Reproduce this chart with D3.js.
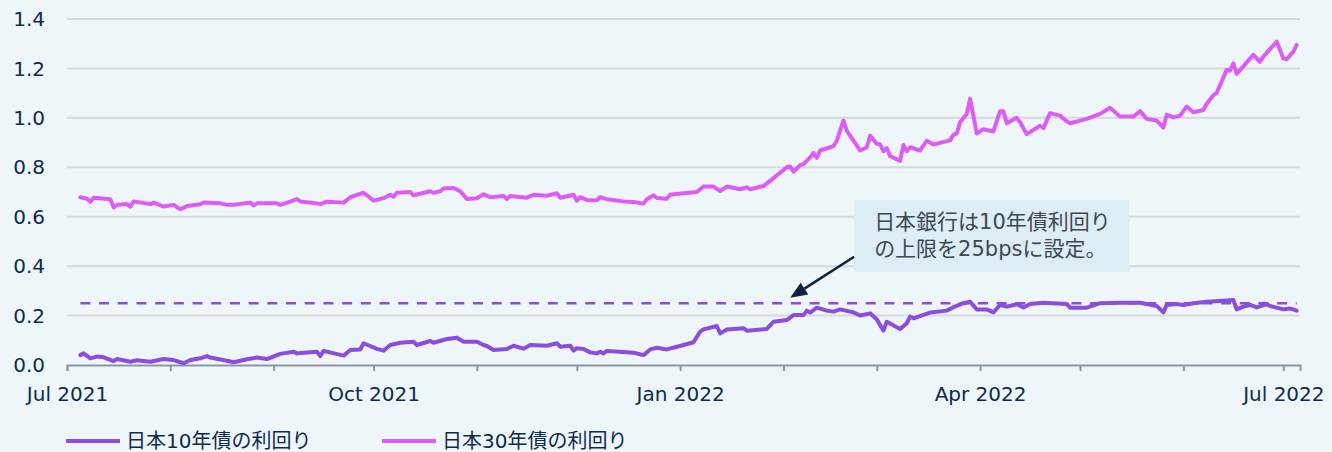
<!DOCTYPE html>
<html>
<head>
<meta charset="utf-8">
<script src="https://cdn.jsdelivr.net/npm/d3@7"></script>
<style>
  body { margin: 0; background: #eef6fa; }
  svg { display: block; }
</style>
</head>
<body>
<svg width="1332" height="452"></svg>
<script>
// 日本10年債の利回り
const dates10 = [
  '2021-07-05', '2021-07-06', '2021-07-08', '2021-07-10', '2021-07-12', '2021-07-15', '2021-07-16',
  '2021-07-20', '2021-07-22', '2021-07-26', '2021-07-30', '2021-08-02', '2021-08-05', '2021-08-07',
  '2021-08-10', '2021-08-12', '2021-08-13', '2021-08-18', '2021-08-20', '2021-08-24', '2021-08-27',
  '2021-08-30', '2021-09-03', '2021-09-07', '2021-09-08', '2021-09-10', '2021-09-14', '2021-09-15',
  '2021-09-16', '2021-09-22', '2021-09-24', '2021-09-27', '2021-09-28', '2021-10-02', '2021-10-04',
  '2021-10-06', '2021-10-09', '2021-10-13', '2021-10-14', '2021-10-18', '2021-10-19', '2021-10-23',
  '2021-10-26', '2021-10-28', '2021-11-01', '2021-11-03', '2021-11-04', '2021-11-06', '2021-11-10',
  '2021-11-12', '2021-11-15', '2021-11-17', '2021-11-22', '2021-11-25', '2021-11-26', '2021-11-29',
  '2021-11-30', '2021-12-01', '2021-12-03', '2021-12-05', '2021-12-07', '2021-12-08', '2021-12-09',
  '2021-12-10', '2021-12-15', '2021-12-18', '2021-12-21', '2021-12-23', '2021-12-25', '2021-12-28',
  '2021-12-31', '2022-01-02', '2022-01-05', '2022-01-07', '2022-01-08', '2022-01-12', '2022-01-13',
  '2022-01-15', '2022-01-20', '2022-01-21', '2022-01-27', '2022-01-29', '2022-02-02', '2022-02-04',
  '2022-02-07', '2022-02-08', '2022-02-09', '2022-02-11', '2022-02-14', '2022-02-16', '2022-02-18',
  '2022-02-22', '2022-02-24', '2022-02-27', '2022-03-01', '2022-03-03', '2022-03-04', '2022-03-08',
  '2022-03-10', '2022-03-11', '2022-03-12', '2022-03-17', '2022-03-22', '2022-03-24', '2022-03-27',
  '2022-03-29', '2022-03-31', '2022-04-03', '2022-04-05', '2022-04-07', '2022-04-09', '2022-04-12',
  '2022-04-14', '2022-04-16', '2022-04-20', '2022-04-27', '2022-04-28', '2022-05-03', '2022-05-07',
  '2022-05-13', '2022-05-19', '2022-05-24', '2022-05-26', '2022-05-27', '2022-05-30', '2022-06-01',
  '2022-06-04', '2022-06-08', '2022-06-13', '2022-06-16', '2022-06-17', '2022-06-19', '2022-06-21',
  '2022-06-23', '2022-06-26', '2022-06-27', '2022-07-01', '2022-07-03', '2022-07-05'
];
const yield10 = [
  0.040, 0.047, 0.027, 0.034, 0.031, 0.016, 0.024,
  0.013, 0.019, 0.013, 0.024, 0.020, 0.007, 0.020,
  0.027, 0.036, 0.030, 0.017, 0.011, 0.023, 0.030,
  0.024, 0.045, 0.054, 0.047, 0.050, 0.054, 0.036,
  0.057, 0.038, 0.061, 0.063, 0.088, 0.065, 0.058,
  0.081, 0.090, 0.094, 0.081, 0.097, 0.090, 0.105,
  0.110, 0.094, 0.094, 0.081, 0.077, 0.061, 0.065,
  0.078, 0.066, 0.081, 0.078, 0.088, 0.074, 0.078,
  0.058, 0.068, 0.065, 0.051, 0.047, 0.054, 0.047,
  0.057, 0.053, 0.050, 0.040, 0.063, 0.070, 0.063,
  0.074, 0.081, 0.092, 0.135, 0.144, 0.158, 0.128,
  0.144, 0.149, 0.139, 0.146, 0.175, 0.182, 0.202,
  0.202, 0.220, 0.212, 0.232, 0.220, 0.216, 0.225,
  0.213, 0.200, 0.209, 0.185, 0.139, 0.175, 0.146,
  0.169, 0.196, 0.189, 0.212, 0.220, 0.234, 0.250,
  0.256, 0.225, 0.225, 0.213, 0.243, 0.236, 0.246,
  0.233, 0.247, 0.252, 0.247, 0.232, 0.232, 0.250,
  0.252, 0.252, 0.239, 0.213, 0.243, 0.247, 0.243,
  0.250, 0.256, 0.260, 0.263, 0.225, 0.236, 0.243,
  0.233, 0.246, 0.239, 0.225, 0.229, 0.220
];

// 日本30年債の利回り
const dates30 = [
  '2021-07-05', '2021-07-07', '2021-07-08', '2021-07-09', '2021-07-14', '2021-07-15', '2021-07-16',
  '2021-07-19', '2021-07-20', '2021-07-21', '2021-07-26', '2021-07-27', '2021-07-30', '2021-08-02',
  '2021-08-04', '2021-08-06', '2021-08-10', '2021-08-11', '2021-08-16', '2021-08-18', '2021-08-20',
  '2021-08-25', '2021-08-26', '2021-08-27', '2021-09-02', '2021-09-03', '2021-09-06', '2021-09-08',
  '2021-09-09', '2021-09-14', '2021-09-15', '2021-09-17', '2021-09-22', '2021-09-24', '2021-09-28',
  '2021-10-01', '2021-10-04', '2021-10-06', '2021-10-07', '2021-10-08', '2021-10-12', '2021-10-13',
  '2021-10-18', '2021-10-19', '2021-10-21', '2021-10-22', '2021-10-25', '2021-10-27', '2021-10-29',
  '2021-11-01', '2021-11-03', '2021-11-05', '2021-11-09', '2021-11-10', '2021-11-11', '2021-11-16',
  '2021-11-18', '2021-11-22', '2021-11-25', '2021-11-26', '2021-11-30', '2021-12-01', '2021-12-02',
  '2021-12-04', '2021-12-07', '2021-12-08', '2021-12-10', '2021-12-15', '2021-12-18', '2021-12-21',
  '2021-12-22', '2021-12-24', '2021-12-25', '2021-12-28', '2021-12-29', '2022-01-02', '2022-01-06',
  '2022-01-08', '2022-01-11', '2022-01-13', '2022-01-15', '2022-01-19', '2022-01-21', '2022-01-22',
  '2022-01-26', '2022-01-29', '2022-02-02', '2022-02-03', '2022-02-04', '2022-02-06', '2022-02-07',
  '2022-02-09', '2022-02-10', '2022-02-11', '2022-02-12', '2022-02-16', '2022-02-17', '2022-02-19',
  '2022-02-20', '2022-02-24', '2022-02-26', '2022-02-27', '2022-03-01', '2022-03-02', '2022-03-03',
  '2022-03-04', '2022-03-05', '2022-03-08', '2022-03-09', '2022-03-10', '2022-03-11', '2022-03-14',
  '2022-03-16', '2022-03-18', '2022-03-23', '2022-03-24', '2022-03-25', '2022-03-26', '2022-03-28',
  '2022-03-29', '2022-03-31', '2022-04-02', '2022-04-05', '2022-04-07', '2022-04-08', '2022-04-09',
  '2022-04-12', '2022-04-13', '2022-04-15', '2022-04-19', '2022-04-20', '2022-04-22', '2022-04-25',
  '2022-04-27', '2022-04-28', '2022-05-03', '2022-05-07', '2022-05-10', '2022-05-13', '2022-05-17',
  '2022-05-19', '2022-05-21', '2022-05-24', '2022-05-26', '2022-05-27', '2022-05-29', '2022-05-31',
  '2022-06-02', '2022-06-04', '2022-06-07', '2022-06-08', '2022-06-10', '2022-06-11', '2022-06-14',
  '2022-06-15', '2022-06-16', '2022-06-17', '2022-06-22', '2022-06-24', '2022-06-25', '2022-06-29',
  '2022-07-01', '2022-07-02', '2022-07-04', '2022-07-05'
];
const yield30 = [
  0.679, 0.673, 0.660, 0.677, 0.671, 0.638, 0.648,
  0.651, 0.641, 0.662, 0.651, 0.657, 0.641, 0.648,
  0.630, 0.643, 0.650, 0.658, 0.654, 0.648, 0.648,
  0.657, 0.646, 0.654, 0.654, 0.648, 0.661, 0.671,
  0.662, 0.654, 0.651, 0.661, 0.657, 0.679, 0.697,
  0.665, 0.675, 0.689, 0.681, 0.697, 0.700, 0.687,
  0.703, 0.697, 0.703, 0.714, 0.716, 0.703, 0.672,
  0.675, 0.691, 0.679, 0.684, 0.672, 0.684, 0.677,
  0.689, 0.685, 0.695, 0.677, 0.689, 0.665, 0.679,
  0.668, 0.667, 0.679, 0.671, 0.662, 0.660, 0.653,
  0.671, 0.687, 0.676, 0.673, 0.689, 0.695, 0.700,
  0.722, 0.722, 0.704, 0.722, 0.711, 0.719, 0.711,
  0.724, 0.756, 0.800, 0.803, 0.782, 0.809, 0.813,
  0.840, 0.858, 0.838, 0.868, 0.886, 0.907, 0.989,
  0.947, 0.868, 0.881, 0.927, 0.895, 0.892, 0.865,
  0.878, 0.845, 0.826, 0.890, 0.865, 0.881, 0.868,
  0.907, 0.892, 0.909, 0.931, 0.937, 0.982, 1.016,
  1.078, 0.937, 0.954, 0.945, 1.027, 1.027, 0.978,
  1.000, 0.982, 0.934, 0.968, 0.958, 1.019, 1.009,
  0.986, 0.978, 0.996, 1.016, 1.041, 1.005, 1.005,
  1.027, 0.996, 0.989, 0.961, 1.013, 1.002, 1.009,
  1.046, 1.023, 1.032, 1.057, 1.091, 1.101, 1.194,
  1.191, 1.221, 1.178, 1.255, 1.227, 1.248, 1.308,
  1.241, 1.237, 1.268, 1.295
];

const yTicks = [0, 0.2, 0.4, 0.6, 0.8, 1.0, 1.2, 1.4];
const seriesNames = ['日本10年債の利回り', '日本30年債の利回り'];
const capValue = 0.25;
const noteLines = ['日本銀行は10年債利回り', 'の上限を25bpsに設定。'];
const noteTarget = { date: '2022-02-03', value: 0.272 };

const parseDate = d3.timeParse('%Y-%m-%d');
const series = [
  { name: seriesNames[0], color: '#8a4de0', points: dates10.map((d, i) => ({ date: parseDate(d), value: yield10[i] })) },
  { name: seriesNames[1], color: '#dd5cf7', points: dates30.map((d, i) => ({ date: parseDate(d), value: yield30[i] })) }
];

const margin = { top: 19, right: 32, bottom: 87, left: 67 };
const width = 1332;
const height = 452;
const svg = d3.select('svg');
const font = "'DejaVu Sans', Verdana, 'Noto Sans CJK JP', sans-serif";
const textColor = '#0d2b4e';

const x = d3
  .scaleTime()
  .domain([new Date(2021, 6, 1), new Date(2022, 6, 6)])
  .range([margin.left, width - margin.right]);

const y = d3
  .scaleLinear()
  .domain([0, 1.4])
  .range([height - margin.bottom, margin.top]);

// grid
svg
  .append('g')
  .selectAll('line')
  .data(yTicks.filter((t) => t > 0))
  .enter()
  .append('line')
  .attr('x1', margin.left)
  .attr('x2', width - margin.right)
  .attr('y1', (d) => y(d))
  .attr('y2', (d) => y(d))
  .attr('stroke', '#d5dadd')
  .attr('stroke-width', 2);

// y labels
svg
  .append('g')
  .selectAll('text')
  .data(yTicks)
  .enter()
  .append('text')
  .attr('x', 45)
  .attr('y', (d) => y(d))
  .attr('dy', '0.36em')
  .attr('text-anchor', 'end')
  .style('font-family', font)
  .style('font-size', '20px')
  .attr('fill', textColor)
  .text((d) => d3.format('.1f')(d));

// x axis
const xAxis = svg
  .append('g')
  .attr('transform', `translate(0,${height - margin.bottom})`)
  .call(
    d3
      .axisBottom(x)
      .ticks(d3.timeMonth.every(1))
      .tickSize(6)
      .tickFormat((d) => (d.getMonth() % 3 === 0 ? d3.timeFormat('%b %Y')(d) : ''))
  );
xAxis.select('.domain').attr('stroke', '#8a98a5').attr('stroke-width', 2);
xAxis.selectAll('.tick line').attr('stroke', '#8a98a5').attr('stroke-width', 2);
xAxis
  .selectAll('.tick text')
  .attr('y', 21)
  .attr('dy', '0.76em')
  .style('font-family', font)
  .style('font-size', '20px')
  .attr('fill', textColor);

// 25bps cap
const allDates = series[0].points.map((p) => p.date);
svg
  .append('line')
  .attr('x1', x(d3.min(allDates)))
  .attr('x2', x(d3.max(allDates)))
  .attr('y1', y(capValue))
  .attr('y2', y(capValue))
  .attr('stroke', '#8a4de0')
  .attr('stroke-width', 2.5)
  .attr('stroke-dasharray', '10,8.7');

// lines
const line = d3
  .line()
  .x((d) => x(d.date))
  .y((d) => y(d.value));

svg
  .append('g')
  .selectAll('path')
  .data(series)
  .enter()
  .append('path')
  .attr('d', (d) => line(d.points))
  .attr('fill', 'none')
  .attr('stroke', (d) => d.color)
  .attr('stroke-width', 4)
  .attr('stroke-linejoin', 'round')
  .attr('stroke-linecap', 'round');

// annotation
const tipX = x(parseDate(noteTarget.date));
const tipY = y(noteTarget.value);
const boxX = tipX + 64;
const boxY = tipY - 98;

svg
  .append('rect')
  .attr('x', boxX)
  .attr('y', boxY)
  .attr('width', 275)
  .attr('height', 72)
  .attr('fill', '#dcedf5');

svg
  .append('g')
  .selectAll('text')
  .data(noteLines)
  .enter()
  .append('text')
  .attr('x', boxX + 20)
  .attr('y', (d, i) => boxY + 29 + i * 27)
  .style('font-family', font)
  .style('font-size', '21px')
  .attr('fill', '#3c4852')
  .text((d) => d);

const ang = Math.atan2(tipY - (tipY - 41), tipX - (tipX + 64));
const headLen = 17;
const headW = 7;
const bx = tipX - headLen * Math.cos(ang);
const by = tipY - headLen * Math.sin(ang);

svg
  .append('line')
  .attr('x1', tipX + 64)
  .attr('y1', tipY - 41)
  .attr('x2', bx)
  .attr('y2', by)
  .attr('stroke', '#0b2340')
  .attr('stroke-width', 2.5);

svg
  .append('path')
  .attr(
    'd',
    `M${tipX},${tipY}L${bx + headW * Math.sin(ang)},${by - headW * Math.cos(ang)}L${bx - headW * Math.sin(ang)},${by + headW * Math.cos(ang)}Z`
  )
  .attr('fill', '#0b2340');

// legend
const legendX = [66, 382];
const legend = svg
  .append('g')
  .selectAll('g')
  .data(series)
  .enter()
  .append('g')
  .attr('transform', (d, i) => `translate(${legendX[i]},441)`);

legend
  .append('line')
  .attr('x1', 0)
  .attr('x2', 54)
  .attr('stroke', (d) => d.color)
  .attr('stroke-width', 4);

legend
  .append('text')
  .attr('x', 60)
  .attr('y', 7)
  .style('font-family', font)
  .style('font-size', '20px')
  .attr('fill', textColor)
  .text((d) => d.name);
</script>
</body>
</html>
